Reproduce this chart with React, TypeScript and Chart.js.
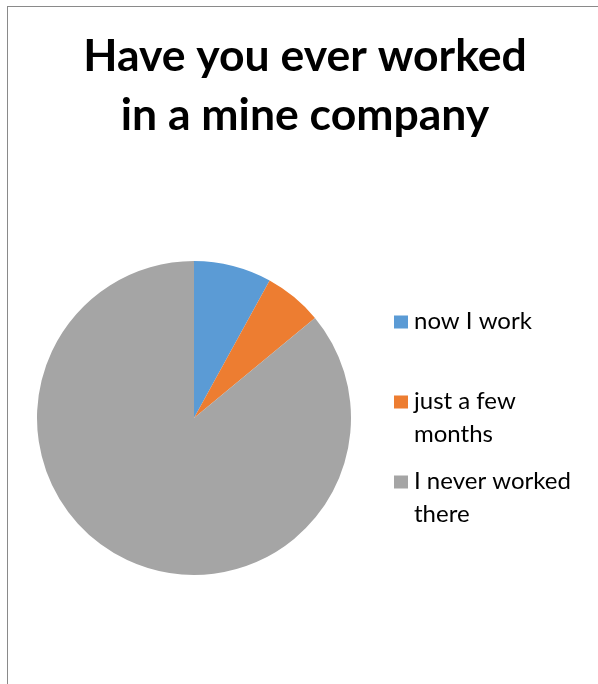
import React, { useEffect, useRef } from "react";
import { Chart, registerables } from "chart.js";

Chart.register(...registerables);

const titleLines = ["Have you ever worked", "in a mine company"];
const categories = ["now I work", "just a few months", "I never worked there"];
const values = [8, 6, 86];
const colors = ["#5B9BD5", "#ED7D31", "#A5A5A5"];

const W = 598;
const H = 684;

const titlePlugin = {
  id: "customTitle",
  afterDraw(chart: any) {
    const ctx = chart.ctx;
    ctx.save();
    ctx.fillStyle = "#000000";
    ctx.font = "bold 44.5px Lato";
    ctx.textAlign = "center";
    ctx.textBaseline = "alphabetic";
    const cx = 305;
    const y0 = 71;
    const lh = 59;
    titleLines.forEach((line, i) => ctx.fillText(line, cx, y0 + i * lh));
    ctx.restore();
  },
};

const legendPlugin = {
  id: "customLegend",
  afterDraw(chart: any) {
    const ctx = chart.ctx;
    const labels: string[] = chart.data.labels;
    const bg: string[] = chart.data.datasets[0].backgroundColor;
    const boxX = 394;
    const box = 14;
    const textX = 414;
    const firstBase = 329;
    const step = 80;
    const lineH = 32.5;
    const maxW = 170;
    ctx.save();
    ctx.font = "24px Lato";
    ctx.textAlign = "left";
    ctx.textBaseline = "alphabetic";
    labels.forEach((label, i) => {
      const base = firstBase + i * step;
      ctx.fillStyle = bg[i];
      ctx.fillRect(boxX, base - box + 0.5, box, box - 1);
      const words = label.split(" ");
      const lines: string[] = [];
      let cur = "";
      words.forEach((w) => {
        const test = cur ? cur + " " + w : w;
        if (ctx.measureText(test).width > maxW && cur) {
          lines.push(cur);
          cur = w;
        } else {
          cur = test;
        }
      });
      if (cur) lines.push(cur);
      ctx.fillStyle = "#000000";
      lines.forEach((ln, j) => ctx.fillText(ln, textX, base + j * lineH));
    });
    ctx.restore();
  },
};

export default function App() {
  const ref = useRef<HTMLCanvasElement | null>(null);

  useEffect(() => {
    if (!ref.current) return;
    const chart = new Chart(ref.current, {
      type: "pie",
      data: {
        labels: categories,
        datasets: [
          {
            data: values,
            backgroundColor: colors,
            borderWidth: 0,
          },
        ],
      },
      options: {
        responsive: false,
        animation: false,
        devicePixelRatio: 1,
        layout: {
          padding: { left: 37, right: W - 351, top: 261, bottom: H - 575 },
        },
        plugins: {
          legend: { display: false },
          title: { display: false },
          tooltip: { enabled: false },
        },
      },
      plugins: [titlePlugin, legendPlugin],
    });
    return () => chart.destroy();
  }, []);

  return (
    <div
      style={{
        position: "absolute",
        left: 0,
        top: 0,
        width: W,
        height: H,
        overflow: "hidden",
        background: "#ffffff",
      }}
    >
      <div
        style={{
          position: "absolute",
          left: 7,
          top: 6,
          width: W,
          height: H,
          borderLeft: "1px solid #8a8a8a",
          borderTop: "1px solid #8a8a8a",
        }}
      />
      <canvas
        ref={ref}
        width={W}
        height={H}
        style={{ position: "absolute", left: 0, top: 0, width: W, height: H }}
      />
    </div>
  );
}
